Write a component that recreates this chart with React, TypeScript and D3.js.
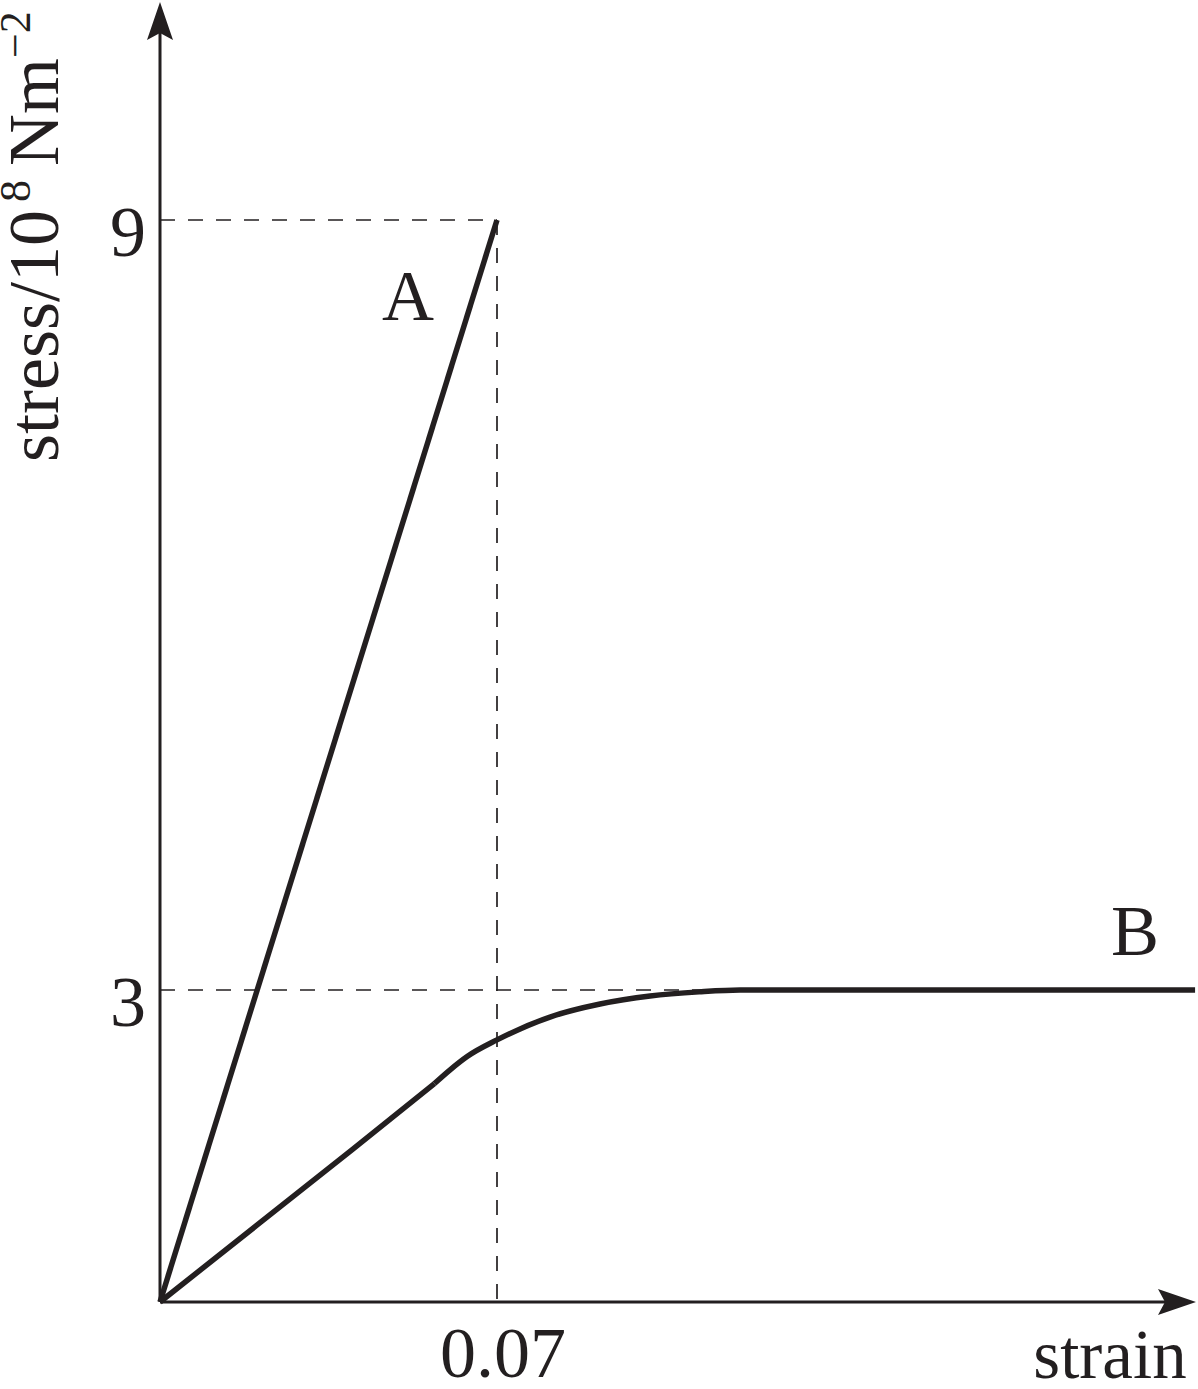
import React from "react";
import * as d3 from "d3";

const W = 1198;
const H = 1389;

// Data (strain, stress in 10^8 N m^-2)
const lineA: [number, number][] = [
  [0, 0],
  [0.07, 9],
];
const lineBStraight: [number, number][] = [
  [0, 0],
  [0.02, 0.734],
  [0.04, 1.468],
  [0.057, 2.1],
];
const lineBCurve: [number, number][] = [
  [0.057, 2.1],
  [0.0602, 2.23],
  [0.0638, 2.36],
  [0.07, 2.52],
  [0.081, 2.74],
  [0.0914, 2.865],
  [0.1018, 2.942],
  [0.112, 2.982],
  [0.1205, 3],
  [0.13, 3],
  [0.215, 3],
];
const yTicks = [3, 9];
const xTicks = [0.07];
const xTickLabels = ["0.07"];
const curveLabels = [
  { name: "A", x: 0.0515, y: 8.22 },
  { name: "B", x: 0.2025, y: 3.27 },
];

const INK = "#231f20";
const FONT = "'Liberation Serif', 'Times New Roman', serif";

export default function App() {
  const x = d3.scaleLinear().domain([0, 0.07]).range([160, 497]);
  const y = d3.scaleLinear().domain([0, 3, 9]).range([1302, 990, 220]);

  const lineGen = d3
    .line<[number, number]>()
    .x((d) => x(d[0]))
    .y((d) => y(d[1]));
  const lineGenB = d3
    .line<[number, number]>()
    .x((d) => x(d[0]))
    .y((d) => y(d[1]))
    .curve(d3.curveMonotoneX);

  const x0 = x(0);
  const y0 = y(0);
  const xEnd = 1196;
  const yTop = 2;

  return (
    <div style={{ position: "absolute", left: 0, top: 0 }}>
      <svg width={W} height={H} style={{ display: "block", background: "#fff" }}>
        {/* dashed guide lines */}
        <g stroke={INK} strokeWidth={1.7} strokeDasharray="15 13" fill="none">
          <line x1={x0} y1={y(9)} x2={x(0.07)} y2={y(9)} />
          <line x1={x(0.07)} y1={y(9)} x2={x(0.07)} y2={y0} />
          <line x1={x0} y1={y(3)} x2={x(0.12)} y2={y(3)} />
        </g>

        {/* axes */}
        <g stroke={INK} strokeWidth={3} fill="none">
          <line x1={x0} y1={y0} x2={x0} y2={yTop + 30} />
          <line x1={x0} y1={y0} x2={xEnd - 30} y2={y0} />
        </g>
        <path
          d={`M${x0},${yTop} L${x0 + 13},${yTop + 38} L${x0},${yTop + 31} L${x0 - 13},${yTop + 38} Z`}
          fill={INK}
        />
        <path
          d={`M${xEnd},${y0} L${xEnd - 38},${y0 - 13} L${xEnd - 31},${y0} L${xEnd - 38},${y0 + 13} Z`}
          fill={INK}
        />

        {/* curves */}
        <path d={lineGen(lineA) || ""} stroke={INK} strokeWidth={5.5} fill="none" strokeLinejoin="round" />
        <path d={lineGen(lineBStraight) || ""} stroke={INK} strokeWidth={5.5} fill="none" strokeLinejoin="round" />
        <path d={lineGenB(lineBCurve) || ""} stroke={INK} strokeWidth={5.5} fill="none" strokeLinejoin="round" />

        {/* tick labels */}
        <g fontFamily={FONT} fill={INK} fontSize={72}>
          {yTicks.map((t) => (
            <text key={t} x={x0 - 14} y={y(t) + 36} textAnchor="end">
              {t}
            </text>
          ))}
          {xTicks.map((t, i) => (
            <text key={t} x={x(t) + 6} y={1377} textAnchor="middle">
              {xTickLabels[i]}
            </text>
          ))}
          <text x={1110} y={1378} textAnchor="middle" fontSize={69}>
            strain
          </text>
          {curveLabels.map((c) => (
            <text key={c.name} x={x(c.x)} y={y(c.y)} textAnchor="middle">
              {c.name}
            </text>
          ))}
          <text transform="translate(58,462) rotate(-90)" textAnchor="start">
            <tspan>stress/10</tspan>
            <tspan fontSize={44} dx={8} dy={-28}>8</tspan>
            <tspan dx={14} dy={28}>Nm</tspan>
            <tspan fontSize={44} dy={-28}>−2</tspan>
          </text>
        </g>
      </svg>
    </div>
  );
}
